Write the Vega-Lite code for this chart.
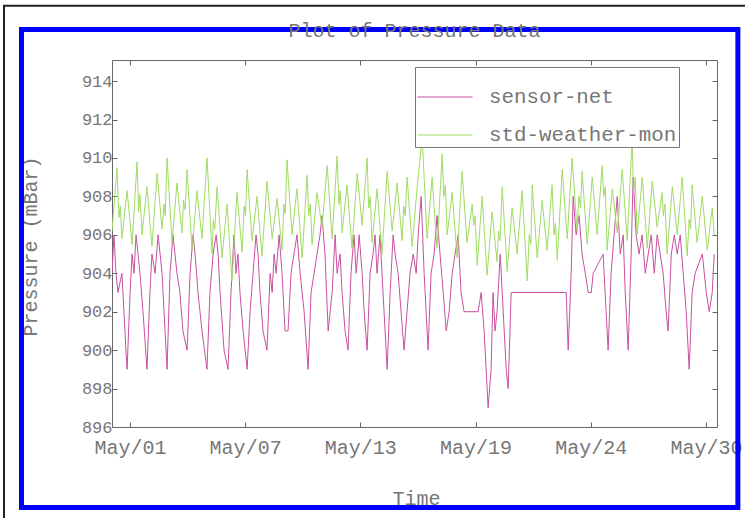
{
  "$schema": "https://vega.github.io/schema/vega-lite/v6.json",
  "width": 605,
  "height": 367,
  "autosize": {"type": "none"},
  "padding": {"left": 112, "top": 60, "right": 28, "bottom": 91},
  "background": "white",
  "title": {"text": "Plot of Pressure Data", "font": "Liberation Mono", "fontSize": 20, "fontWeight": "normal", "color": "#777", "anchor": "middle", "baseline": "alphabetic", "offset": -52},
  "config": {
    "view": {"stroke": "#666", "strokeWidth": 1},
    "axis": {"labelFont": "Liberation Mono", "titleFont": "Liberation Mono", "labelColor": "#777", "titleColor": "#777", "titleFontWeight": "normal", "grid": false, "domain": false, "tickColor": "#666", "tickSize": -5, "tickWidth": 1}
  },
  "layer": [
    {
      "data": {"values": [{}]},
      "mark": {"type": "rect", "fillOpacity": 0, "stroke": "#222", "strokeWidth": 2, "clip": false},
      "encoding": {
        "x": {"datum": -4.636, "type": "quantitative", "scale": {"domain": [0.8, 31.25], "nice": false, "zero": false},
              "axis": {"orient": "top", "values": [1.7, 7.5, 13.3, 19.1, 24.9, 30.7], "labels": false, "title": null}},
        "x2": {"datum": 32.91},
        "y": {"datum": 917.92, "type": "quantitative", "scale": {"domain": [896, 915.1], "nice": false, "zero": false},
              "axis": {"orient": "right", "values": [896, 898, 900, 902, 904, 906, 908, 910, 912, 914], "labels": false, "title": null}},
        "y2": {"datum": 890.9}
      }
    },
    {
      "data": {"values": [{}]},
      "mark": {"type": "rect", "fillOpacity": 0, "stroke": "#0000ff", "strokeWidth": 5, "clip": false},
      "encoding": {
        "x": {"datum": -3.755, "type": "quantitative", "scale": {"domain": [0.8, 31.25], "nice": false, "zero": false}, "axis": null},
        "x2": {"datum": 32.30},
        "y": {"datum": 916.69, "type": "quantitative", "scale": {"domain": [896, 915.1], "nice": false, "zero": false}, "axis": null},
        "y2": {"datum": 891.81}
      }
    },
    {
      "data": {"values": [
        {"t":0.80,"p":904},{"t":0.90,"p":906},{"t":1.00,"p":904},{"t":1.10,"p":903},{"t":1.30,"p":904},{"t":1.50,"p":900},{"t":1.56,"p":899},{"t":1.71,"p":903},{"t":1.81,"p":905},{"t":1.91,"p":904},{"t":2.01,"p":906},{"t":2.11,"p":905},{"t":2.21,"p":904},{"t":2.36,"p":902},{"t":2.56,"p":899},{"t":2.71,"p":903},{"t":2.81,"p":905},{"t":2.97,"p":904},{"t":3.12,"p":906},{"t":3.22,"p":905},{"t":3.32,"p":904},{"t":3.42,"p":902},{"t":3.57,"p":899},{"t":3.72,"p":904},{"t":3.87,"p":906},{"t":3.97,"p":905},{"t":4.07,"p":904},{"t":4.22,"p":903},{"t":4.37,"p":901},{"t":4.58,"p":900},{"t":4.73,"p":904},{"t":4.88,"p":906},{"t":4.98,"p":905},{"t":5.13,"p":903},{"t":5.33,"p":901},{"t":5.58,"p":899},{"t":5.73,"p":903},{"t":5.89,"p":905},{"t":6.04,"p":906},{"t":6.14,"p":905},{"t":6.24,"p":903},{"t":6.44,"p":900},{"t":6.64,"p":899},{"t":6.79,"p":903},{"t":6.94,"p":906},{"t":7.04,"p":904},{"t":7.14,"p":905},{"t":7.24,"p":903},{"t":7.40,"p":901},{"t":7.60,"p":899},{"t":7.75,"p":902},{"t":7.90,"p":904},{"t":8.05,"p":906},{"t":8.15,"p":905},{"t":8.25,"p":903},{"t":8.40,"p":901},{"t":8.60,"p":900},{"t":8.76,"p":904},{"t":8.86,"p":903},{"t":8.96,"p":905},{"t":9.06,"p":904},{"t":9.21,"p":906},{"t":9.36,"p":904},{"t":9.51,"p":901},{"t":9.66,"p":901},{"t":9.81,"p":904},{"t":9.96,"p":905},{"t":10.11,"p":906},{"t":10.27,"p":904},{"t":10.47,"p":902},{"t":10.67,"p":899},{"t":10.82,"p":903},{"t":10.97,"p":904},{"t":11.12,"p":905},{"t":11.27,"p":906},{"t":11.37,"p":907},{"t":11.52,"p":905},{"t":11.68,"p":901},{"t":11.88,"p":903},{"t":12.03,"p":906},{"t":12.13,"p":904},{"t":12.28,"p":905},{"t":12.38,"p":903},{"t":12.53,"p":901},{"t":12.68,"p":900},{"t":12.83,"p":904},{"t":12.98,"p":906},{"t":13.09,"p":904},{"t":13.24,"p":906},{"t":13.39,"p":904},{"t":13.49,"p":902},{"t":13.64,"p":900},{"t":13.79,"p":904},{"t":13.94,"p":905},{"t":14.04,"p":906},{"t":14.14,"p":904},{"t":14.29,"p":906},{"t":14.44,"p":903},{"t":14.65,"p":899},{"t":14.80,"p":903},{"t":14.95,"p":906},{"t":15.05,"p":905},{"t":15.20,"p":904},{"t":15.35,"p":902},{"t":15.50,"p":900},{"t":15.65,"p":902},{"t":15.80,"p":904},{"t":15.96,"p":905},{"t":16.11,"p":904},{"t":16.21,"p":906},{"t":16.36,"p":908},{"t":16.51,"p":904},{"t":16.71,"p":900},{"t":16.86,"p":904},{"t":17.01,"p":905},{"t":17.16,"p":907},{"t":17.31,"p":905},{"t":17.47,"p":903},{"t":17.62,"p":901},{"t":17.77,"p":902},{"t":17.92,"p":904},{"t":18.07,"p":905},{"t":18.22,"p":906},{"t":18.37,"p":903},{"t":18.52,"p":902},{"t":19.23,"p":902},{"t":19.38,"p":903},{"t":19.53,"p":901},{"t":19.73,"p":897},{"t":19.88,"p":899},{"t":19.98,"p":903},{"t":20.08,"p":901},{"t":20.18,"p":902},{"t":20.34,"p":905},{"t":20.49,"p":902},{"t":20.64,"p":899},{"t":20.74,"p":898},{"t":20.89,"p":903},{"t":23.66,"p":903},{"t":23.76,"p":900},{"t":23.91,"p":904},{"t":24.01,"p":908},{"t":24.16,"p":906},{"t":24.31,"p":907},{"t":24.46,"p":905},{"t":24.62,"p":904},{"t":24.77,"p":903},{"t":24.92,"p":903},{"t":25.02,"p":904},{"t":25.52,"p":905},{"t":25.67,"p":902},{"t":25.77,"p":900},{"t":25.92,"p":904},{"t":26.07,"p":906},{"t":26.23,"p":908},{"t":26.38,"p":905},{"t":26.53,"p":906},{"t":26.63,"p":903},{"t":26.78,"p":900},{"t":26.93,"p":905},{"t":27.03,"p":909},{"t":27.18,"p":906},{"t":27.33,"p":905},{"t":27.48,"p":906},{"t":27.64,"p":904},{"t":27.79,"p":905},{"t":27.94,"p":906},{"t":28.09,"p":904},{"t":28.24,"p":906},{"t":28.39,"p":905},{"t":28.54,"p":904},{"t":28.69,"p":902},{"t":28.79,"p":901},{"t":28.95,"p":905},{"t":29.10,"p":906},{"t":29.25,"p":905},{"t":29.40,"p":906},{"t":29.55,"p":904},{"t":29.70,"p":902},{"t":29.85,"p":899},{"t":30.00,"p":903},{"t":30.15,"p":904},{"t":30.51,"p":905},{"t":30.71,"p":903},{"t":30.86,"p":902},{"t":31.01,"p":903},{"t":31.11,"p":905}
      ]},
      "mark": {"type": "line", "strokeWidth": 1, "clip": true},
      "encoding": {
        "x": {"field": "t", "type": "quantitative", "scale": {"domain": [0.8, 31.25], "nice": false, "zero": false},
              "axis": {"orient": "bottom", "values": [1.7, 7.5, 13.3, 19.1, 24.9, 30.7], "labelExpr": "'May/' + (floor(datum.value) < 10 ? '0' : '') + floor(datum.value)", "labelFontSize": 20, "labelPadding": 15, "title": "Time", "titleFontSize": 20, "titleX": 304, "titleY": 71, "titleAlign": "center", "titleBaseline": "middle"}},
        "y": {"field": "p", "type": "quantitative", "scale": {"domain": [896, 915.1], "nice": false, "zero": false},
              "axis": {"orient": "left", "values": [896, 898, 900, 902, 904, 906, 908, 910, 912, 914], "labelFontSize": 17, "labelPadding": 5, "title": "Pressure (mBar)", "titleFontSize": 20, "titleX": -82, "titleY": 186, "titleAngle": 270, "titleAlign": "center", "titleBaseline": "middle"}},
        "color": {"datum": "sensor-net", "type": "nominal",
                  "scale": {"domain": ["sensor-net", "std-weather-mon"], "range": ["#c8509f", "#a0dc64"]},
                  "legend": {"orient": "none", "legendX": 303, "legendY": 7, "title": null, "symbolType": "stroke", "symbolSize": 3025, "symbolStrokeWidth": 1, "labelOffset": 16, "labelLimit": 400, "labelFont": "Liberation Mono", "labelFontSize": 20.8, "labelColor": "#777", "strokeColor": "#777", "padding": 2, "rowPadding": -1, "fillColor": "white"}}
      }
    },
    {
      "data": {"values": [
        {"t":0.80,"p":906.2},{"t":1.05,"p":909.5},{"t":1.15,"p":906.9},{"t":1.22,"p":907.5},{"t":1.30,"p":905.8},{"t":1.56,"p":908.3},{"t":1.81,"p":905.5},{"t":2.06,"p":909.8},{"t":2.14,"p":907.2},{"t":2.21,"p":908.1},{"t":2.31,"p":906.0},{"t":2.56,"p":908.5},{"t":2.81,"p":905.4},{"t":3.07,"p":909.2},{"t":3.32,"p":906.3},{"t":3.42,"p":907.6},{"t":3.48,"p":907.0},{"t":3.57,"p":910.0},{"t":3.82,"p":905.6},{"t":4.07,"p":908.7},{"t":4.32,"p":906.1},{"t":4.40,"p":907.8},{"t":4.48,"p":907.3},{"t":4.58,"p":909.4},{"t":4.83,"p":905.2},{"t":5.08,"p":908.3},{"t":5.33,"p":905.8},{"t":5.58,"p":910.0},{"t":5.84,"p":905.0},{"t":5.90,"p":906.8},{"t":5.97,"p":906.3},{"t":6.09,"p":908.5},{"t":6.34,"p":904.8},{"t":6.59,"p":907.6},{"t":6.84,"p":903.6},{"t":7.09,"p":908.2},{"t":7.35,"p":905.1},{"t":7.45,"p":907.5},{"t":7.52,"p":907.0},{"t":7.60,"p":909.4},{"t":7.85,"p":905.7},{"t":8.10,"p":908.0},{"t":8.35,"p":904.9},{"t":8.60,"p":908.8},{"t":8.86,"p":905.8},{"t":9.11,"p":907.9},{"t":9.36,"p":905.2},{"t":9.45,"p":907.6},{"t":9.52,"p":907.1},{"t":9.61,"p":909.9},{"t":9.86,"p":906.0},{"t":10.11,"p":908.4},{"t":10.37,"p":904.8},{"t":10.62,"p":909.1},{"t":10.70,"p":907.0},{"t":10.78,"p":907.6},{"t":10.87,"p":905.5},{"t":11.12,"p":908.2},{"t":11.37,"p":906.4},{"t":11.63,"p":909.6},{"t":11.88,"p":905.8},{"t":12.13,"p":910.1},{"t":12.22,"p":907.6},{"t":12.29,"p":908.3},{"t":12.38,"p":906.1},{"t":12.63,"p":908.6},{"t":12.88,"p":905.3},{"t":13.14,"p":909.2},{"t":13.39,"p":906.5},{"t":13.64,"p":910.0},{"t":13.72,"p":907.4},{"t":13.80,"p":908.0},{"t":13.89,"p":905.6},{"t":14.14,"p":908.4},{"t":14.39,"p":905.0},{"t":14.65,"p":909.3},{"t":14.90,"p":906.2},{"t":15.15,"p":908.7},{"t":15.40,"p":905.7},{"t":15.48,"p":907.5},{"t":15.56,"p":907.0},{"t":15.65,"p":909.0},{"t":15.91,"p":905.4},{"t":16.16,"p":908.5},{"t":16.41,"p":911.1},{"t":16.66,"p":905.8},{"t":16.91,"p":909.0},{"t":17.16,"p":905.3},{"t":17.42,"p":910.2},{"t":17.50,"p":908.0},{"t":17.58,"p":908.6},{"t":17.67,"p":906.0},{"t":17.92,"p":908.2},{"t":18.17,"p":904.8},{"t":18.42,"p":909.3},{"t":18.67,"p":905.6},{"t":18.93,"p":907.6},{"t":19.00,"p":906.5},{"t":19.08,"p":907.0},{"t":19.18,"p":904.4},{"t":19.43,"p":908.0},{"t":19.68,"p":903.9},{"t":19.93,"p":907.2},{"t":20.18,"p":904.6},{"t":20.25,"p":906.2},{"t":20.33,"p":905.7},{"t":20.44,"p":908.5},{"t":20.69,"p":904.1},{"t":20.94,"p":907.4},{"t":21.19,"p":905.0},{"t":21.44,"p":908.3},{"t":21.70,"p":903.6},{"t":21.80,"p":906.0},{"t":21.88,"p":905.5},{"t":21.95,"p":908.6},{"t":22.20,"p":904.8},{"t":22.45,"p":907.8},{"t":22.70,"p":905.2},{"t":22.95,"p":908.6},{"t":23.05,"p":906.0},{"t":23.12,"p":906.6},{"t":23.21,"p":904.7},{"t":23.46,"p":909.4},{"t":23.71,"p":905.8},{"t":23.96,"p":910.0},{"t":24.21,"p":906.2},{"t":24.30,"p":908.0},{"t":24.38,"p":907.4},{"t":24.46,"p":909.3},{"t":24.72,"p":905.5},{"t":24.97,"p":909.0},{"t":25.22,"p":906.0},{"t":25.47,"p":909.6},{"t":25.55,"p":908.0},{"t":25.63,"p":908.5},{"t":25.72,"p":905.2},{"t":25.98,"p":908.4},{"t":26.23,"p":906.1},{"t":26.48,"p":909.4},{"t":26.73,"p":905.7},{"t":26.98,"p":911.0},{"t":27.05,"p":908.2},{"t":27.13,"p":909.0},{"t":27.23,"p":906.0},{"t":27.49,"p":909.0},{"t":27.74,"p":905.3},{"t":27.99,"p":908.8},{"t":28.24,"p":906.4},{"t":28.49,"p":908.2},{"t":28.55,"p":907.0},{"t":28.63,"p":907.6},{"t":28.74,"p":905.0},{"t":29.00,"p":908.5},{"t":29.25,"p":906.0},{"t":29.50,"p":909.0},{"t":29.75,"p":904.9},{"t":29.85,"p":906.8},{"t":29.92,"p":906.3},{"t":30.00,"p":908.6},{"t":30.25,"p":905.6},{"t":30.51,"p":908.0},{"t":30.76,"p":905.2},{"t":31.01,"p":907.4},{"t":31.11,"p":906.0}
      ]},
      "mark": {"type": "line", "strokeWidth": 1, "clip": true},
      "encoding": {
        "x": {"field": "t", "type": "quantitative", "scale": {"domain": [0.8, 31.25], "nice": false, "zero": false}, "axis": null},
        "y": {"field": "p", "type": "quantitative", "scale": {"domain": [896, 915.1], "nice": false, "zero": false}, "axis": null},
        "color": {"datum": "std-weather-mon", "type": "nominal"}
      }
    }
  ],
  "resolve": {"axis": {"x": "independent", "y": "independent"}}
}
